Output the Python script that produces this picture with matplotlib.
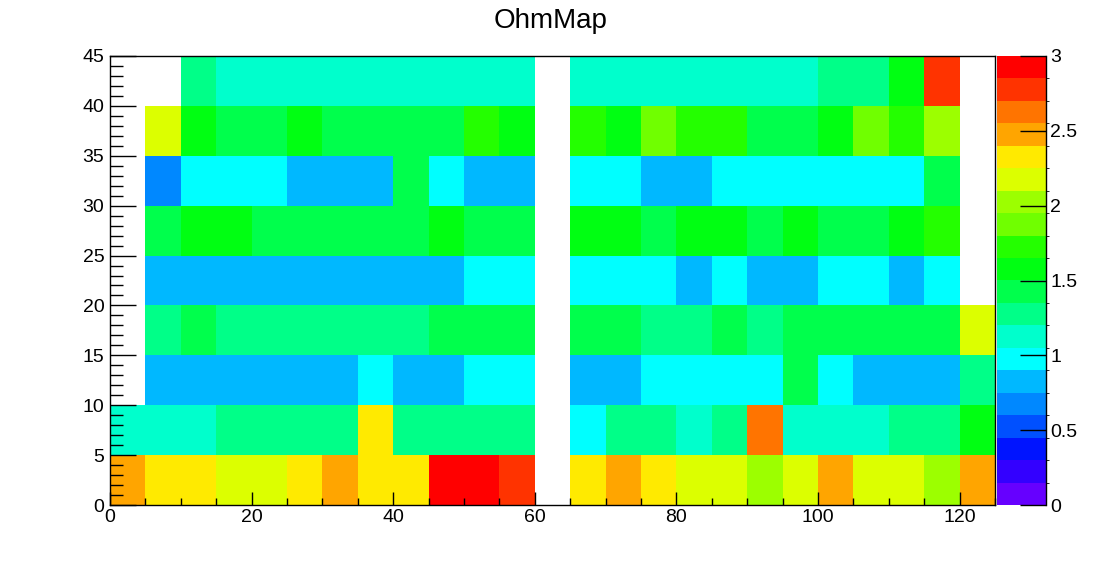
import numpy as np
import matplotlib
matplotlib.use("Agg")
import matplotlib.pyplot as plt
from matplotlib.colors import ListedColormap, BoundaryNorm
from matplotlib.ticker import MultipleLocator
from matplotlib.lines import Line2D

plt.rcParams['font.family'] = ['Liberation Sans', 'DejaVu Sans']

title = "OhmMap"
x_edges = np.arange(0, 126, 5)
y_edges = np.arange(0, 46, 5)
z_min, z_max, n_levels = 0.0, 3.0, 20
cbar_ticks = [0, 0.5, 1.0, 1.5, 2.0, 2.5, 3.0]
cbar_labels = ["0", "0.5", "1", "1.5", "2", "2.5", "3"]

palette = ["#6600ff", "#3300ff", "#0014ff", "#0050ff", "#0088ff",
           "#00b8ff", "#00ffff", "#00ffcc", "#00ff88", "#00ff4c",
           "#00ff12", "#24ff00", "#70ff00", "#9cff00", "#dcff00",
           "#ffea00", "#ffa500", "#ff7400", "#ff3300", "#ff0000"]

N = np.nan
# one list per y-bin (bottom to top), 25 x-bins each
row_00_05 = [2.47, 2.33, 2.33, 2.18, 2.18, 2.33, 2.47, 2.33, 2.33, 2.93, 2.93, 2.78, N,
             2.33, 2.47, 2.33, 2.18, 2.18, 2.03, 2.18, 2.47, 2.18, 2.18, 2.03, 2.47]
row_05_10 = [1.12, 1.12, 1.12, 1.28, 1.28, 1.28, 1.28, 2.33, 1.28, 1.28, 1.28, 1.28, N,
             0.97, 1.28, 1.28, 1.12, 1.28, 2.63, 1.12, 1.12, 1.12, 1.28, 1.28, 1.57]
row_10_15 = [N, 0.82, 0.82, 0.82, 0.82, 0.82, 0.82, 0.97, 0.82, 0.82, 0.97, 0.97, N,
             0.82, 0.82, 0.97, 0.97, 0.97, 0.97, 1.43, 0.97, 0.82, 0.82, 0.82, 1.28]
row_15_20 = [N, 1.28, 1.43, 1.28, 1.28, 1.28, 1.28, 1.28, 1.28, 1.43, 1.43, 1.43, N,
             1.43, 1.43, 1.28, 1.28, 1.43, 1.28, 1.43, 1.43, 1.43, 1.43, 1.43, 2.18]
row_20_25 = [N, 0.82, 0.82, 0.82, 0.82, 0.82, 0.82, 0.82, 0.82, 0.82, 0.97, 0.97, N,
             0.97, 0.97, 0.97, 0.82, 0.97, 0.82, 0.82, 0.97, 0.97, 0.82, 0.97, N]
row_25_30 = [N, 1.43, 1.57, 1.57, 1.43, 1.43, 1.43, 1.43, 1.43, 1.57, 1.43, 1.43, N,
             1.57, 1.57, 1.43, 1.57, 1.57, 1.43, 1.57, 1.43, 1.43, 1.57, 1.72, N]
row_30_35 = [N, 0.68, 0.97, 0.97, 0.97, 0.82, 0.82, 0.82, 1.43, 0.97, 0.82, 0.82, N,
             0.97, 0.97, 0.82, 0.82, 0.97, 0.97, 0.97, 0.97, 0.97, 0.97, 1.43, N]
row_35_40 = [N, 2.18, 1.57, 1.43, 1.43, 1.57, 1.43, 1.43, 1.43, 1.43, 1.72, 1.57, N,
             1.72, 1.57, 1.87, 1.72, 1.72, 1.43, 1.43, 1.57, 1.87, 1.72, 2.03, N]
row_40_45 = [N, N, 1.28, 1.12, 1.12, 1.12, 1.12, 1.12, 1.12, 1.12, 1.12, 1.12, N,
             1.12, 1.12, 1.12, 1.12, 1.12, 1.12, 1.12, 1.28, 1.28, 1.57, 2.78, N]

Z = np.ma.masked_invalid(np.array([row_00_05, row_05_10, row_10_15, row_15_20, row_20_25,
                                   row_25_30, row_30_35, row_35_40, row_40_45]))

W, H = 1102, 562
fig = plt.figure(figsize=(W / 100, H / 100), dpi=100)
ax = fig.add_axes([110 / W, 57 / H, 885 / W, 449 / H])

cmap = ListedColormap(palette)
cmap.set_bad((1, 1, 1, 0))
norm = BoundaryNorm(np.linspace(z_min, z_max, n_levels + 1), cmap.N)
mesh = ax.pcolormesh(x_edges, y_edges, Z, cmap=cmap, norm=norm)

ax.set_xlim(x_edges[0], x_edges[-1])
ax.set_ylim(y_edges[0], y_edges[-1])
ax.xaxis.set_major_locator(MultipleLocator(20))
ax.xaxis.set_minor_locator(MultipleLocator(5))
ax.yaxis.set_major_locator(MultipleLocator(5))
ax.yaxis.set_minor_locator(MultipleLocator(1))
ax.tick_params(which='both', direction='in', top=False, right=False, width=1, labelsize=14)
ax.tick_params(axis='x', which='major', length=9.4, pad=3)
ax.tick_params(axis='x', which='minor', length=4.7)
ax.tick_params(axis='y', which='major', length=18.7, pad=4)
ax.tick_params(axis='y', which='minor', length=9.4)
for s in ax.spines.values():
    s.set_linewidth(1)

cax = fig.add_axes([997 / W, 57 / H, 49 / W, 449 / H])
cb = fig.colorbar(mesh, cax=cax, ticks=cbar_ticks)
cb.outline.set_visible(False)
cax.add_line(Line2D([1, 1], [0, 1], transform=cax.transAxes, color='k', lw=1, clip_on=False))
cax.tick_params(direction='in', length=18.7, width=1, labelsize=14, pad=3)
cax.set_yticklabels(cbar_labels)

fig.text(0.5, 1 - 28 / H, title, ha='center', va='baseline', fontsize=20)

fig.savefig("out.png", dpi=100)
